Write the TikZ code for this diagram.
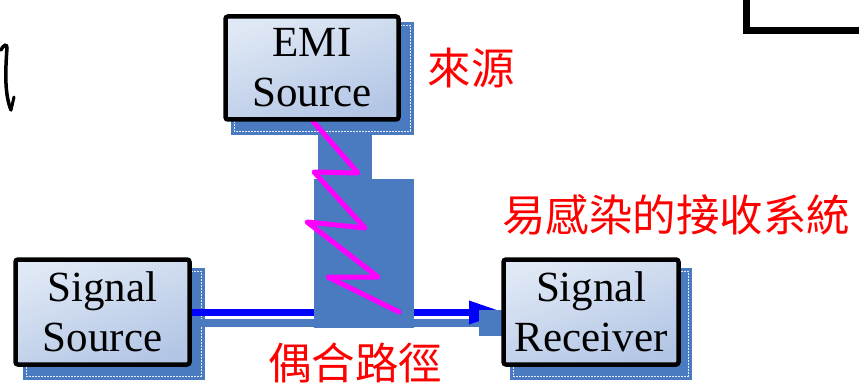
\documentclass[tikz,border=0pt]{standalone}
\usepackage{fontspec}
\setmainfont{Liberation Serif}
\newfontfamily\cjk{Noto Sans CJK TC}
\usetikzlibrary{arrows.meta}
\definecolor{shadowblue}{HTML}{4A7BC0}
\definecolor{boxtop}{HTML}{DFE8F5}
\definecolor{boxbot}{HTML}{B3C6E5}
\definecolor{pureblue}{HTML}{0000FF}
\definecolor{zig}{HTML}{FF00FF}
\definecolor{lblred}{HTML}{FF0000}
\tikzset{
  shadowbox/.style={fill=shadowblue, draw=none},
  innerline/.style={draw=white!85!shadowblue, line width=0.8pt, dash pattern=on 2pt off 1pt},
  mainbox/.style={draw=black, line width=4.5pt, rounded corners=2.5pt,
    top color=boxtop, bottom color=boxbot, shading angle=20,
    inner sep=0pt, align=center,
    font=\fontsize{43}{50}\selectfont},
  redlbl/.style={text=lblred, inner sep=0pt, font=\cjk\fontsize{43.5}{50}\selectfont},
}
\begin{document}
\begin{tikzpicture}[x=1pt,y=-1pt]
\useasboundingbox (0,0) rectangle (859,385);
% shadows
\fill[shadowbox] (231,22) rectangle (414,135);
\draw[innerline] (234,25) rectangle (410,131);
\fill[shadowbox] (23,268) rectangle (205,380);
\draw[innerline] (26,271) rectangle (201,376);
\fill[shadowbox] (510,268) rectangle (692,380);
\draw[innerline] (513,271) rectangle (688,376);
% horizontal bar under the signal line
\fill[shadowblue] (187,319) rectangle (480,327);
% signal line and arrow
\coordinate (lineA) at (190,312.5);
\coordinate (lineB) at (505,312.5);
\draw[pureblue, line width=6.5pt, -{Triangle[length=36pt,width=22pt]}] (lineA) -- (lineB);
% end square
\fill[shadowblue] (479,310) rectangle (515,336);
% coupling column
\fill[shadowblue] (318,133) rectangle (372,180);
\fill[shadowblue] (314,179) rectangle (414,328);
% zigzag
\draw[zig, line width=5pt, line cap=round, line join=round]
  (311,119) -- (358,173) -- (314,172) -- (365,228) -- (307,222) -- (378,277) -- (328,277) -- (399,312);
% boxes
\node[mainbox, minimum width=173pt, minimum height=103pt] (emi) at (312,68) {EMI\\Source};
\node[mainbox, minimum width=174pt, minimum height=105pt] (ss) at (102.5,312) {Signal\\Source};
\node[mainbox, minimum width=175pt, minimum height=105pt] (sr) at (591,312) {Signal\\Receiver};
% labels
\node[redlbl] (src) at (471,68) {來源};
\node[redlbl] (sus) at (676,215) {易感染的接收系統};
\node[redlbl] (path) at (355,363) {偶合路徑};
% left edge fragment
\draw[line width=3.5pt, line cap=round] (1,50) .. controls (4,44) and (7,44) .. (7,48)
  .. controls (5,75) and (5,95) .. (11,110);
\draw[line width=3pt, line cap=round] (11,110) -- (14,97);
% top-right fragment
\draw[line width=7pt] (746.5,0) -- (746.5,30.5) -- (860,30.5);
\end{tikzpicture}
\end{document}
